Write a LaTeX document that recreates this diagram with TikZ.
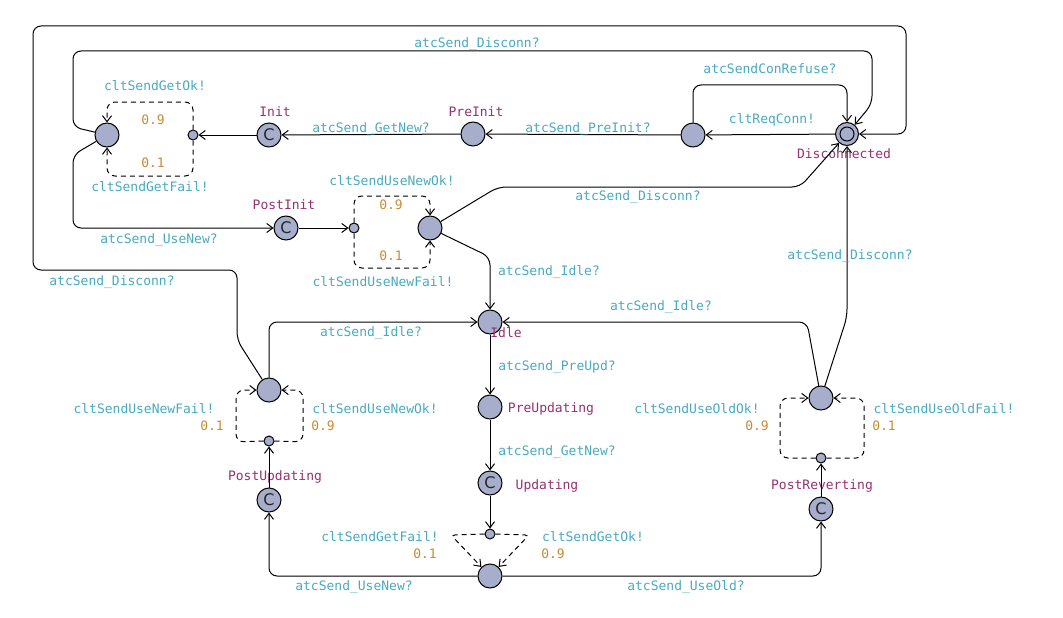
\documentclass[tikz,border=0pt]{standalone}
\usepackage{fontspec}
\setmonofont{DejaVu Sans Mono}
\newfontfamily\cfont{DejaVu Sans}
\usetikzlibrary{arrows.meta}
\definecolor{locfill}{RGB}{166,174,204}
\definecolor{lblc}{RGB}{72,170,192}
\definecolor{probc}{RGB}{200,138,52}
\definecolor{namec}{RGB}{150,48,112}
\tikzset{
  loc/.style={circle, draw, fill=locfill, minimum size=24pt, inner sep=0pt, line width=1pt},
  brp/.style={circle, draw, fill=locfill, minimum size=10pt, inner sep=0pt, line width=1pt},
  lbl/.style={text=lblc, font=\ttfamily\fontsize{13}{15}\selectfont, inner sep=0pt},
  prb/.style={text=probc, font=\ttfamily\fontsize{13}{15}\selectfont, inner sep=0pt},
  nm/.style={text=namec, font=\ttfamily\fontsize{13}{15}\selectfont, inner sep=0pt},
  cmark/.style={font=\cfont\fontsize{16}{16}\selectfont, inner sep=0pt, text=black!85},
  edge/.style={draw, line width=1pt, rounded corners=8pt, -{Straight Barb[length=6pt,width=9pt]}},
  pedge/.style={edge, dash pattern=on 5pt off 4pt}
}
\begin{document}
\begin{tikzpicture}[x=1pt,y=-1pt]
\useasboundingbox (0,0) rectangle (1063,618);
% locations
\node[loc, minimum size=23pt] (disc) at (847,134) {};
\draw[line width=1pt] (disc.center) circle (7pt);
\node[loc] (req) at (693,135) {};
\node[loc] (preinit) at (473,134) {};
\node[loc] (init) at (269,135) {};
\node[brp] (b1) at (193,135) {};
\node[loc] (A) at (107,135) {};
\node[loc] (postinit) at (286,228) {};
\node[brp] (b2) at (354,228) {};
\node[loc] (B) at (430,228) {};
\node[loc] (idle) at (490,322) {};
\node[loc] (preupd) at (490,407) {};
\node[loc] (upd) at (490,483) {};
\node[brp] (b3) at (490,534) {};
\node[loc] (D) at (490,576) {};
\node[loc] (postupd) at (269,500) {};
\node[brp] (b4) at (269,441) {};
\node[loc] (E) at (269,390) {};
\node[loc] (postrev) at (821,509) {};
\node[brp] (b5) at (821,458) {};
\node[loc] (F) at (821,398) {};
% committed marks
\foreach \n in {init,postinit,upd,postupd,postrev}
  \node[cmark] (c\n) at (\n) {C};

% location names
\node[nm] (ninit) at (275,112) {Init};
\node[nm] (npreinit) at (476,112) {PreInit};
\node[nm] (ndisc) at (844,154) {Disconnected};
\node[nm] (npostinit) at (284,205) {PostInit};
\node[nm] (nidle) at (506,333) {Idle};
\node[nm] (npreupd) at (551,409) {PreUpdating};
\node[nm] (npostupd) at (275,477) {PostUpdating};
\node[nm] (nupd) at (547,486) {Updating};
\node[nm] (npostrev) at (822,486) {PostReverting};

% edges
\draw[edge] (disc) -- (req);
\draw[edge] (req.north) -- (693,85) -- (847,85) -- (disc.north);
\draw[edge] (req) -- (preinit);
\draw[edge] (preinit) -- (init);
\draw[edge] (init) -- (b1);
\draw[pedge] (b1.north) -- (193,102) -- (107,102) -- (A.north);
\draw[pedge] (b1.south) -- (193,176) -- (107,176) -- (A.south);
\draw[edge] (A) -- (73,155) -- (73,228) -- (postinit);
\draw[edge] (A) -- (73,127) -- (73,51) -- (872,51) -- (872,104) -- (disc);
\draw[edge] (postinit) -- (b2);
\draw[pedge] (b2.north) -- (354,196) -- (430,196) -- (B.north);
\draw[pedge] (b2.south) -- (354,268) -- (430,268) -- (B.south);
\draw[edge] (B) -- (490,257) -- (idle);
\draw[edge] (B) -- (498,187) -- (800,187) -- (disc);
\draw[edge] (E.north) -- (269,322) -- (idle);
\draw[edge] (F) -- (807,322) -- (idle);
\draw[edge] (F) -- (847,317) -- (disc.south);
\draw[edge] (E) -- (237,340) -- (237,270) -- (33,270) -- (33,26) -- (906,26) -- (906,134) -- (disc);
\draw[edge] (idle) -- (preupd);
\draw[edge] (preupd) -- (upd);
\draw[edge] (upd) -- (b3);
\draw[pedge, rounded corners=4pt] (b3.west) -- (451,535) -- (D);
\draw[pedge, rounded corners=4pt] (b3.east) -- (529,535) -- (D);
\draw[edge] (D) -- (269,576) -- (postupd);
\draw[edge] (D) -- (821,576) -- (postrev);
\draw[edge] (postupd) -- (b4);
\draw[pedge] (b4.west) -- (236,442) -- (236,390) -- (E);
\draw[pedge] (b4.east) -- (303,442) -- (303,390) -- (E);
\draw[edge] (postrev) -- (b5);
\draw[pedge] (b5.west) -- (780,458) -- (780,398) -- (F);
\draw[pedge] (b5.east) -- (864,458) -- (864,398) -- (F);

% edge labels
\node[lbl] (l1) at (477,44) {atcSend\_Disconn?};
\node[lbl] (l2) at (770,69) {atcSendConRefuse?};
\node[lbl] (l3) at (772,120) {cltReqConn!};
\node[lbl] (l4) at (588,129) {atcSend\_PreInit?};
\node[lbl] (l5) at (371,129) {atcSend\_GetNew?};
\node[lbl] (l6) at (155,86) {cltSendGetOk!};
\node[prb] (p1) at (153,120) {0.9};
\node[prb] (p2) at (153,163) {0.1};
\node[lbl] (l7) at (150,187) {cltSendGetFail!};
\node[lbl] (l8) at (392,181) {cltSendUseNewOk!};
\node[prb] (p3) at (391,205) {0.9};
\node[prb] (p4) at (391,256) {0.1};
\node[lbl] (l9) at (383,282) {cltSendUseNewFail!};
\node[lbl] (l10) at (159,240) {atcSend\_UseNew?};
\node[lbl] (l11) at (638,197) {atcSend\_Disconn?};
\node[lbl] (l12) at (549,272) {atcSend\_Idle?};
\node[lbl] (l13) at (112,282) {atcSend\_Disconn?};
\node[lbl] (l14) at (850,256) {atcSend\_Disconn?};
\node[lbl] (l15) at (661,307) {atcSend\_Idle?};
\node[lbl] (l16) at (371,333) {atcSend\_Idle?};
\node[lbl] (l17) at (557,367) {atcSend\_PreUpd?};
\node[lbl] (l18) at (144,409) {cltSendUseNewFail!};
\node[prb] (p5) at (212,426) {0.1};
\node[lbl] (l19) at (375,409) {cltSendUseNewOk!};
\node[prb] (p6) at (323,426) {0.9};
\node[lbl] (l20) at (697,409) {cltSendUseOldOk!};
\node[prb] (p7) at (757,426) {0.9};
\node[lbl] (l21) at (944,409) {cltSendUseOldFail!};
\node[prb] (p8) at (884,426) {0.1};
\node[lbl] (l22) at (557,452) {atcSend\_GetNew?};
\node[lbl] (l23) at (380,537) {cltSendGetFail!};
\node[prb] (p9) at (425,554) {0.1};
\node[lbl] (l24) at (593,537) {cltSendGetOk!};
\node[prb] (p10) at (553,554) {0.9};
\node[lbl] (l25) at (354,587) {atcSend\_UseNew?};
\node[lbl] (l26) at (686,587) {atcSend\_UseOld?};
\end{tikzpicture}
\end{document}
